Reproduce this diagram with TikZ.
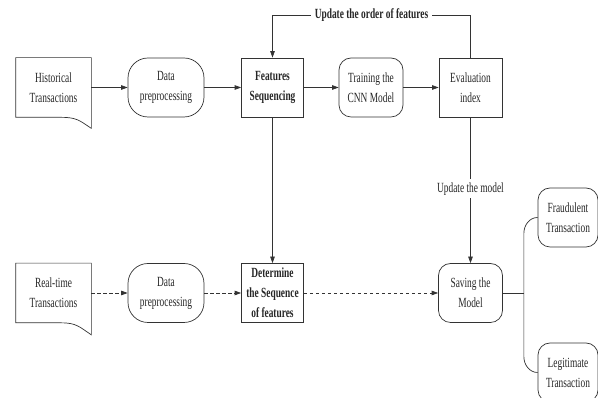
\documentclass[tikz,border=0pt]{standalone}
\usepackage{fontspec}
\setmainfont{Liberation Serif}[FakeStretch=0.67]
\usetikzlibrary{arrows.meta,calc}

\begin{document}
\begin{tikzpicture}[x=1pt,y=1pt,
  font=\fontsize{14}{20}\selectfont,
  color=black!80,line width=0.7pt,
  every node/.style={text=black!85,align=center,inner sep=1pt},
  arr/.style={-{Triangle[length=6.5pt,width=4.5pt]}},
  dasharr/.style={arr,dash pattern=on 3.5pt off 2.5pt},
  docbox/.style={minimum width=75pt,minimum height=59pt},
  prep/.style={draw,rounded corners=20pt,minimum width=76pt,minimum height=59pt},
  term/.style={draw,rounded corners=12pt,minimum width=64pt,minimum height=59pt},
  stepbox/.style={draw,minimum width=62pt,minimum height=59pt,font=\fontsize{14}{20}\selectfont\bfseries}]
  \useasboundingbox (0,0) rectangle (598,398);

  \node[docbox] (hist) at (53.5,310.5) {Historical\\Transactions};
  \draw (hist.north west) -- (hist.north east) -- ([yshift=-11pt]hist.south east)
    .. controls +(-12,8) and +(15,0) .. ([xshift=-30pt]hist.south east) -- (hist.south west) -- cycle;
  \node[prep] (dpa) at (166,310.5) {Data\\preprocessing};
  \node[stepbox] (feat) at (272.5,310.5) {Features\\Sequencing};
  \node[term] (cnn) at (371,310.5) {Training the\\CNN Model};
  \node[draw,minimum width=63pt,minimum height=59pt] (eval) at (470.5,310.5) {Evaluation\\index};

  \node[docbox] (real) at (53.5,105) {Real-time\\Transactions};
  \draw (real.north west) -- (real.north east) -- ([yshift=-12pt]real.south east)
    .. controls +(-12,8) and +(15,0) .. ([xshift=-30pt]real.south east) -- (real.south west) -- cycle;
  \node[prep] (dpb) at (166,105) {Data\\preprocessing};
  \node[stepbox] (det) at (272.5,105) {Determine\\the Sequence\\of features};
  \node[term] (save) at (470.5,105) {Saving the\\Model};

  \node[term,minimum width=60pt] (frd) at (568,180.5) {Fraudulent\\Transaction};
  \node[term,minimum width=60pt] (leg) at (568,25.5) {Legitimate\\Transaction};

  \draw[arr] (hist) -- (dpa);
  \draw[arr] (dpa) -- (feat);
  \draw[arr] (feat) -- (cnn);
  \draw[arr] (cnn) -- (eval);
  \draw[arr] (eval.north) -- ++(0,42.5) -| node[pos=0.25,fill=white,inner xsep=4pt,font=\fontsize{14}{20}\selectfont\bfseries]{Update the order of features} (feat.north);
  \draw[arr] (feat) -- (det);
  \draw[arr] (eval) -- node[pos=0.49,fill=white,inner ysep=3pt]{Update the model} (save);

  \draw[dasharr] (real) -- (dpb);
  \draw[dasharr] (dpb) -- (det);
  \draw[dasharr] (det) -- (save);

  \draw (save.east) -- ++(21,0) coordinate (brc);
  \draw (frd.west) to[out=180,in=90] ($(frd.west -| brc)+(0,-16)$)
    -- ($(leg.west -| brc)+(0,16)$) to[out=-90,in=180] (leg.west);
\end{tikzpicture}
\end{document}
